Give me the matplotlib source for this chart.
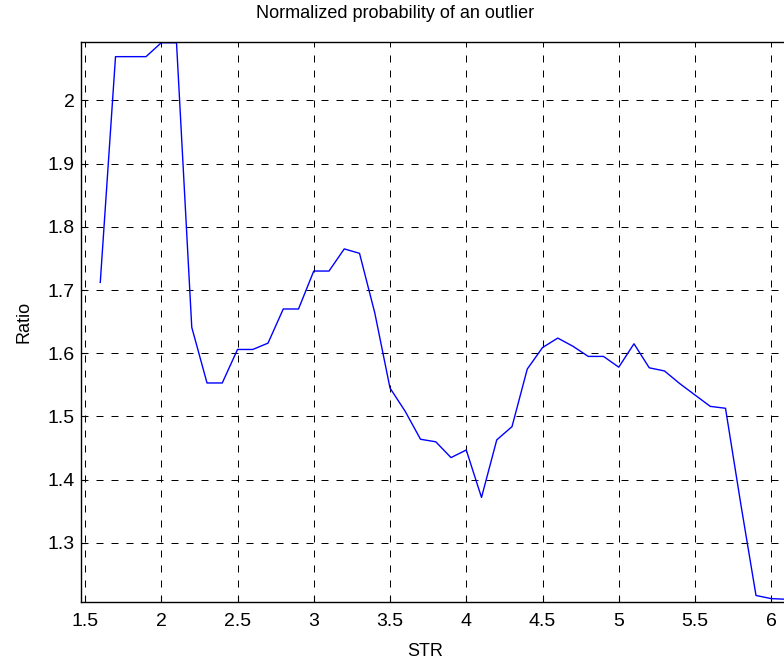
import numpy as np
import matplotlib.pyplot as plt

# values
str_vals = [1.6, 1.7, 1.8, 1.9, 2.0, 2.1, 2.2, 2.3, 2.4, 2.5,
            2.6, 2.7, 2.8, 2.9, 3.0, 3.1, 3.2, 3.3, 3.4, 3.5,
            3.6, 3.7, 3.8, 3.9, 4.0, 4.1, 4.2, 4.3, 4.4, 4.5,
            4.6, 4.7, 4.8, 4.9, 5.0, 5.1, 5.2, 5.3, 5.4, 5.5,
            5.6, 5.7, 5.8, 5.9, 6.0, 6.1]
ratio = [1.712, 2.069, 2.069, 2.069, 2.091, 2.091, 1.641, 1.553, 1.553, 1.606,
         1.606, 1.616, 1.670, 1.670, 1.730, 1.730, 1.765, 1.758, 1.664, 1.545,
         1.508, 1.464, 1.460, 1.435, 1.447, 1.372, 1.463, 1.484, 1.575, 1.609,
         1.624, 1.611, 1.595, 1.595, 1.578, 1.615, 1.577, 1.572, 1.552, 1.534,
         1.516, 1.513, 1.362, 1.217, 1.212, 1.211]

xticks = [1.5, 2, 2.5, 3, 3.5, 4, 4.5, 5, 5.5, 6]
xticklabels = ["1.5", "2", "2.5", "3", "3.5", "4", "4.5", "5", "5.5", "6"]
yticks = [1.3, 1.4, 1.5, 1.6, 1.7, 1.8, 1.9, 2.0]
yticklabels = ["1.3", "1.4", "1.5", "1.6", "1.7", "1.8", "1.9", "2"]

plt.rcParams['font.family'] = ['Liberation Sans', 'DejaVu Sans']

fig = plt.figure(figsize=(7.84, 6.59), dpi=100)
ax = fig.add_axes([0.1027, 0.0870, 0.8973, 0.8493])

ax.plot(str_vals, ratio, color='#0000ff', lw=1.0)

ax.set_xlim(1.4705, 6.0836)
ax.set_ylim(1.2072, 2.0922)
ax.set_xticks(xticks)
ax.set_xticklabels(xticklabels)
ax.set_yticks(yticks)
ax.set_yticklabels(yticklabels)

ax.grid(True, color='black', lw=0.72, linestyle=(0, (7, 8)))
ax.set_axisbelow(True)
ax.tick_params(direction='in', length=4, width=0.8, labelsize=14, colors='black')
ax.tick_params(axis='x', pad=8)
ax.tick_params(axis='y', pad=4)
ax.spines['right'].set_visible(False)
for s in ['left', 'top', 'bottom']:
    ax.spines[s].set_linewidth(1.0)

# MATLAB axes was wider than the saved picture, so labels sit left of centre
ax.set_title("Normalized probability of an outlier", fontsize=13, pad=17, x=0.447)
ax.set_xlabel("STR", fontsize=13)
ax.xaxis.set_label_coords(0.49, -0.074)
ax.set_ylabel("Ratio", fontsize=13, labelpad=11)

fig.savefig("out.png", dpi=100)
